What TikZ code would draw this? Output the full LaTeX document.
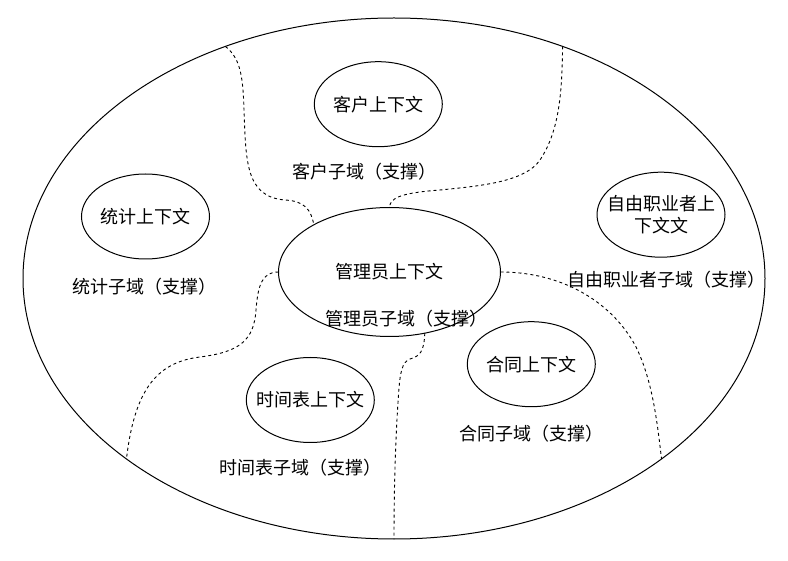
\documentclass[tikz,border=0pt]{standalone}
\usepackage{fontspec}
\setmainfont{Noto Sans CJK SC}
\usetikzlibrary{shapes.geometric}
\tikzset{
  ctx/.style={ellipse, draw, line width=1pt, inner xsep=-10pt, inner ysep=0pt, outer sep=0pt,
    minimum width=128pt, minimum height=85pt, align=center, font=\fontsize{18}{22}\selectfont},
  lbl/.style={inner sep=0pt, font=\fontsize{18}{22}\selectfont},
  bound/.style={line width=0.9pt, dash pattern=on 3pt off 3pt}
}
\begin{document}
\begin{tikzpicture}[x=1pt,y=-1pt]
\fill[white] (0,0) rectangle (788,561);
\useasboundingbox (0,0) rectangle (788,561);
\node[ellipse, draw, line width=1pt, inner sep=0pt, outer sep=0pt,
  minimum width=742pt, minimum height=521pt] (big) at (394,278.5) {};
\node[ctx, minimum width=222pt, minimum height=129pt] (mgr) at (389.5,272) {管理员上下文};
\node[ctx] (cust) at (378.3,104.2) {客户上下文};
\node[ctx] (stat) at (145.5,216.5) {统计上下文};
\node[ctx] (free) at (661,214.7) {自由职业者上\\下文文};
\node[ctx] (cont) at (531.3,364.2) {合同上下文};
\node[ctx] (time) at (310.3,400) {时间表上下文};
\node[lbl] (mgrL) at (406,319) {管理员子域（支撑）};
\node[lbl] (custL) at (364,171.5) {客户子域（支撑）};
\node[lbl] (statL) at (144,286.5) {统计子域（支撑）};
\node[lbl] (freeL) at (666,280) {自由职业者子域（支撑）};
\node[lbl] (contL) at (531,434) {合同子域（支撑）};
\node[lbl] (timeL) at (300,468) {时间表子域（支撑）};
% dashed boundaries
\draw[bound] (big.126.7) .. controls (240,58) and (243,75) .. (244,110)
  .. controls (246,160) and (245,197) .. (285,200)
  .. controls (305,201) and (311,210) .. (mgr.148);
\draw[bound] (big.54) .. controls (562,90) and (560,130) .. (540,160)
  .. controls (525,182) and (480,186) .. (440,190)
  .. controls (400,193) and (390,198) .. (mgr.north);
\draw[bound] (mgr.east) .. controls (560,272) and (610,300) .. (635,345)
  .. controls (652,378) and (657,420) .. (big.-34.9);
\draw[bound] (mgr.-60.7) .. controls (424,352) and (420,356) .. (410,359)
  .. controls (402,362) and (400,372) .. (398.5,395)
  .. controls (396,430) and (394,480) .. (big.south);
\draw[bound] (mgr.west) .. controls (262,272) and (258,285) .. (256,310)
  .. controls (254,340) and (240,352) .. (200,357)
  .. controls (160,362) and (135,385) .. (big.214.9);
\end{tikzpicture}
\end{document}
